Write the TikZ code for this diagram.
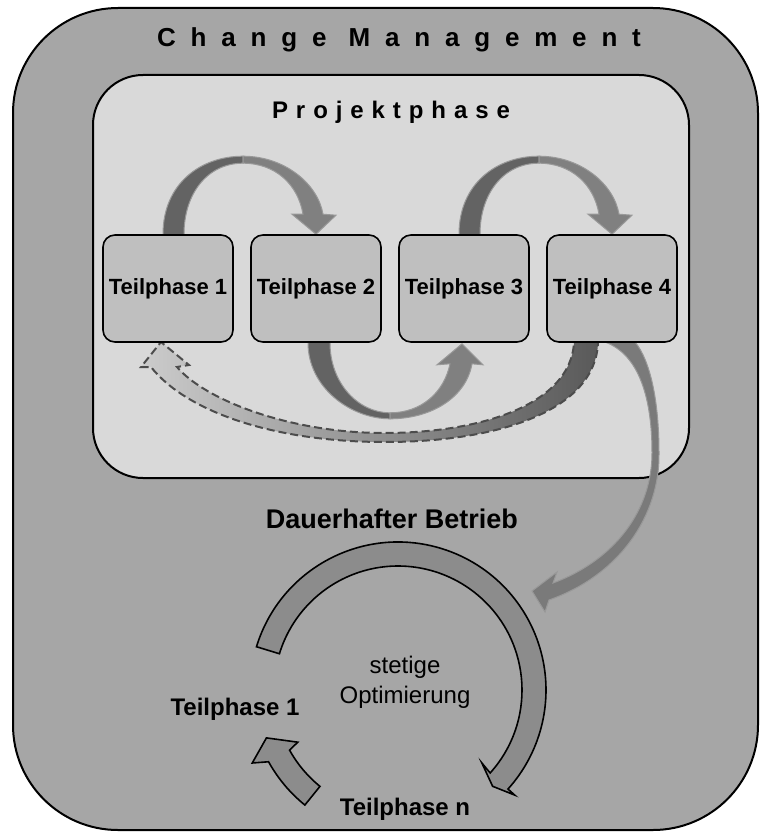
\documentclass[tikz,border=0pt]{standalone}
\usepackage{fontspec}
\setmainfont{Liberation Sans}
\newfontfamily\widefont[LetterSpace=57]{Liberation Sans}
\newfontfamily\halfwidefont[LetterSpace=33]{Liberation Sans}
\usetikzlibrary{positioning,calc}
\pgfdeclarelayer{back}
\pgfdeclarelayer{mid}
\pgfsetlayers{back,mid,main}

\begin{document}
\begin{tikzpicture}[x=1pt,y=-1pt,
  frame/.style={draw,line width=2pt,rounded corners=#1,inner sep=0pt},
  phase/.style={draw,fill=black!25,line width=1.6pt,rounded corners=12pt,minimum width=130pt,minimum height=107pt,inner sep=1pt,font=\fontsize{22}{26}\selectfont\bfseries},
  lbl/.style={inner sep=0pt,anchor=base,font=\fontsize{24}{28}\selectfont\bfseries},
  cycleband/.style={draw,line width=1.6pt,fill=black!45},
  back half/.style={fill=black!61,draw=black!40,line width=1pt},
  front half/.style={fill=black!50,draw=black!40,line width=1pt},
  hopup/.pic={
    \draw[back half] (-5,3) -- (-5,0) .. controls (-5,-50) and (32,-78) .. (75,-78)
      -- (75,-71) .. controls (39,-71) and (16,-40) .. (16,0) -- (16,3) -- cycle;
    \draw[front half] (75,-78) .. controls (117,-78) and (150,-50) .. (155,-20)
      -- (168,-19) -- (148,0) -- (124,-20) -- (135,-20)
      .. controls (130,-50) and (107,-71) .. (75,-71) -- cycle;
  },
  hopdown/.pic={
    \draw[back half] (-8,-3) -- (-8,0) .. controls (-8,45) and (35,76) .. (74,76)
      -- (74,70) .. controls (42,70) and (14,40) .. (14,0) -- (14,-3) -- cycle;
    \draw[front half] (74,76) .. controls (115,76) and (150,55) .. (156,21)
      -- (167,22) -- (146,1) -- (121,22) -- (134,21)
      .. controls (128,50) and (105,70) .. (74,70) -- cycle;
  }
]
\useasboundingbox (0,0) rectangle (760,832);

% outer and inner frame
\begin{pgfonlayer}{back}
\node[frame=105pt,fill=black!35,minimum width=745pt,minimum height=822pt] (chm) at (385.5,419) {};
\node[frame=50pt,fill=black!15,minimum width=596pt,minimum height=403pt] (proj) at (391,276.5) {};
\end{pgfonlayer}

\node[lbl,font=\fontsize{26}{30}\selectfont\bfseries\widefont] (chmtitle) at (399,47) {Change Management};
\node[lbl,font=\fontsize{24}{28}\selectfont\bfseries\halfwidefont] (projtitle) at (391,118) {Projektphase};

% the four sub phases
\node[phase] (tp1) at (168,288.5) {Teilphase 1};
\node[phase,right=16.4pt of tp1] (tp2) {Teilphase 2};
\node[phase,right=16.4pt of tp2] (tp3) {Teilphase 3};
\node[phase,right=16.4pt of tp3] (tp4) {Teilphase 4};

\begin{pgfonlayer}{mid}
\pic at (tp1.north) {hopup};
\pic at (tp3.north) {hopup};
\pic at (tp2.south) {hopdown};
% way back to the start
\shadedraw[left color=black!20,middle color=black!35,right color=black!65,draw=black!70,
  dash pattern=on 8pt off 4pt,line width=2pt]
  (598,338) -- (598,343) .. controls (595,410) and (500,442) .. (385,442)
  .. controls (270,442) and (185,410) .. (151,367) -- (141,367) -- (161,342)
  -- (189,365) -- (177,367) .. controls (205,400) and (290,433) .. (384,433)
  .. controls (480,433) and (570,405) .. (574,343) -- (574,338) -- cycle;
% into operation
\draw[fill=black!52,draw=black!40,line width=1pt]
  (605,338) -- (605,342) .. controls (640,355) and (652,400) .. (652,453)
  .. controls (652,510) and (615,560) .. (553,583) -- (557,572) -- (532,591)
  -- (545,612) -- (549,600) .. controls (620,575) and (660,515) .. (659,453)
  .. controls (659,400) and (650,360) .. (635,342) -- (635,338) -- cycle;
\end{pgfonlayer}

% continuous operation
\coordinate (c) at (398,690);
\node[lbl,font=\fontsize{27}{31}\selectfont\bfseries] (betrieb) at (392,528) {Dauerhafter Betrieb};
\draw[cycleband] ($(c)+(-163:148)$) arc[start angle=-163,end angle=42,radius=148]
  -- ($(c)+(42:157)$) -- ($(c)+(45.5:135)$) -- ($(c)+(41:111)$) -- ($(c)+(42:124)$)
  arc[start angle=42,end angle=-163,radius=124] -- cycle;
\draw[cycleband] ($(c)+(129:148)$) arc[start angle=129,end angle=151,radius=148]
  -- ($(c)+(153.4:163)$) -- ($(c)+(160:140)$) -- ($(c)+(152.5:113)$) -- ($(c)+(151:124)$)
  arc[start angle=151,end angle=129,radius=124] -- cycle;

\node[lbl,font=\fontsize{24}{28}\selectfont] (stetig) at (405,673) {stetige};
\node[lbl,font=\fontsize{24}{28}\selectfont] (optim) at (405,703) {Optimierung};
\node[lbl] (first) at (235,715) {Teilphase 1};
\node[lbl] (last) at (405,815) {Teilphase n};
\end{tikzpicture}
\end{document}
